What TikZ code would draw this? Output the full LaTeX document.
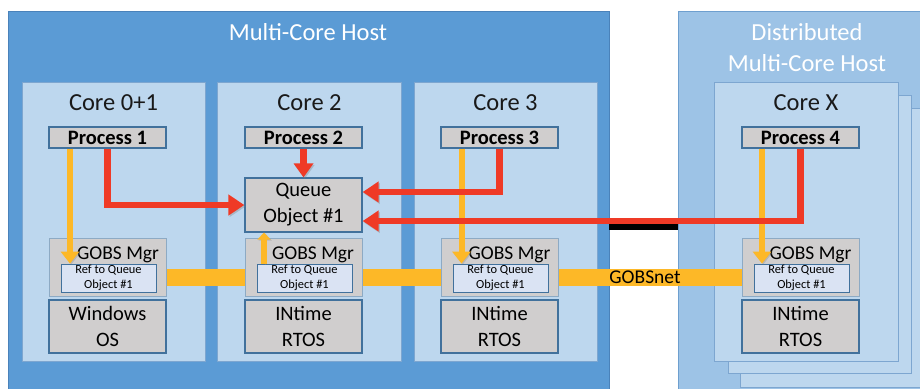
\documentclass[tikz,border=0pt]{standalone}
\usepackage{fontspec}
\setmainfont{Carlito}
\usetikzlibrary{arrows.meta,calc}
\definecolor{hostblue}{HTML}{5B9BD5}
\definecolor{hostedge}{HTML}{4A82BA}
\definecolor{distblue}{HTML}{9DC3E6}
\definecolor{distedge}{HTML}{6E9FCF}
\definecolor{corefill}{HTML}{BDD7EE}
\definecolor{coreedge}{HTML}{7DA6D0}
\definecolor{grayfill}{HTML}{D0CECE}
\definecolor{boxedge}{HTML}{41719C}
\definecolor{reffill}{HTML}{DAE3F3}
\definecolor{ylw}{HTML}{FDB827}
\definecolor{rd}{HTML}{EF3A26}
\pgfdeclarelayer{back}
\pgfdeclarelayer{mid}
\pgfsetlayers{back,mid,main}
\begin{document}
\begin{tikzpicture}[x=1pt,y=-1pt,
  hostbox/.style={draw=hostedge,line width=0.8pt,fill=hostblue,inner sep=0pt},
  distbox/.style={draw=distedge,line width=0.8pt,fill=distblue,inner sep=0pt},
  corebox/.style={draw=coreedge,line width=0.8pt,fill=corefill,inner sep=0pt,minimum width=183pt,minimum height=279pt},
  hosttitle/.style={text=white,font=\fontsize{24.5}{31}\selectfont,align=center,inner sep=0pt},
  coretitle/.style={text=black!90,font=\fontsize{24.5}{30}\selectfont,inner sep=0pt},
  procbox/.style={draw=boxedge,line width=1.2pt,fill=grayfill,minimum width=117pt,minimum height=21pt,inner sep=0pt,font=\bfseries\fontsize{20.5}{22}\selectfont},
  queuebox/.style={draw=boxedge,line width=1.2pt,fill=grayfill,minimum width=117pt,minimum height=54pt,inner sep=0pt,align=center,font=\fontsize{20.5}{26}\selectfont},
  gobsbox/.style={draw=boxedge!60,line width=0.8pt,fill=grayfill,minimum width=117pt,minimum height=58pt,inner sep=0pt},
  gobslabel/.style={font=\fontsize{19.5}{22}\selectfont,inner sep=0pt},
  refbox/.style={draw=boxedge,line width=0.8pt,fill=reffill,minimum width=95pt,minimum height=28pt,inner sep=0pt,align=center,font=\fontsize{12.4}{15.5}\selectfont},
  osbox/.style={draw=boxedge,line width=1.6pt,fill=grayfill,minimum width=117pt,minimum height=53pt,inner sep=0pt,align=center,font=\fontsize{20.5}{26}\selectfont},
  busline/.style={draw=ylw,line width=17pt},
  yarrow/.style={draw=ylw,line width=6pt,-{Triangle[length=12pt,width=18pt]},
    preaction={draw=black!45,opacity=0.35,transform canvas={shift={(1.2pt,-1pt)}}}},
  rarrow/.style={draw=rd,line width=6.5pt,-{Triangle[length=16pt,width=20pt]},
    preaction={draw=black!50,opacity=0.35,transform canvas={shift={(1.2pt,-1.5pt)}}}},
  blackbar/.style={draw=black,line width=6pt}]
\useasboundingbox (0,0) rectangle (920,388);
\begin{pgfonlayer}{back}
% hosts
\node[hostbox,minimum width=601pt,minimum height=381pt] (mh) at (308.5,201.5) {};
\node[distbox,minimum width=250pt,minimum height=381pt] (dh) at (803,201.5) {};
% stacked cores
\node[corebox,minimum width=184pt] (s3) at (832,247.5) {};
\node[corebox,minimum height=278pt] (s2) at (819.5,234) {};
% cores
\node[corebox] (c1) at (113.5,221.5) {};
\node[corebox,minimum width=184pt] (c2) at (309,221.5) {};
\node[corebox] (c3) at (505.5,221.5) {};
\node[corebox,minimum width=184pt] (cx) at (806,221.5) {};
\end{pgfonlayer}
% titles
\node[hosttitle] (mht) at (308,32) {Multi-Core Host};
\node[hosttitle] (dht) at (807,47.5) {Distributed\\Multi-Core Host};
\node[coretitle] (t1) at (113.5,103) {Core 0+1};
\node[coretitle] (t2) at (309.5,103) {Core 2};
\node[coretitle] (t3) at (505.5,103) {Core 3};
\node[coretitle] (tx) at (806,103) {Core X};
% processes
\node[procbox] (p1) at (107.5,137.5) {Process 1};
\node[procbox] (p2) at (303.5,137.5) {Process 2};
\node[procbox] (p3) at (499.5,137.5) {Process 3};
\node[procbox] (p4) at (800.5,137.5) {Process 4};
% queue
\node[queuebox] (q) at (303.5,205) {Queue\\Object \#1};
% GOBS managers
\node[gobsbox] (g1) at (107.5,267) {};
\node[gobsbox] (g2) at (303.5,267) {};
\node[gobsbox] (g3) at (499.5,267) {};
\node[gobsbox] (gx) at (800.5,267) {};
\node[gobslabel] (gl1) at (118,255) {GOBS Mgr};
\node[gobslabel] (gl2) at (313,255) {GOBS Mgr};
\node[gobslabel] (gl3) at (509.5,255) {GOBS Mgr};
\node[gobslabel] (glx) at (810.5,255) {GOBS Mgr};
\node[refbox] (r1) at (108.5,278) {Ref to Queue\\Object \#1};
\node[refbox] (r2) at (304.5,278) {Ref to Queue\\Object \#1};
\node[refbox] (r3) at (500.5,278) {Ref to Queue\\Object \#1};
\node[refbox] (rx) at (801.5,278) {Ref to Queue\\Object \#1};
% OS boxes
\node[osbox] (o1) at (107.5,326.5) {Windows\\OS};
\node[osbox] (o2) at (303.5,326.5) {INtime\\RTOS};
\node[osbox] (o3) at (499.5,326.5) {INtime\\RTOS};
\node[osbox] (ox) at (800.5,326.5) {INtime\\RTOS};
% bus
\begin{pgfonlayer}{mid}
\draw[busline] ($(g1.east)+(0,10.5)$) -- ($(gx.west)+(0,10.5)$);
\end{pgfonlayer}
\node[font=\fontsize{19.5}{22}\selectfont,inner sep=0pt] (net) at (645,277) {GOBSnet};
% black link
\draw[blackbar] (mh.east |- 0,227) -- (dh.west |- 0,227);
% yellow arrows
\coordinate (y1) at ($(p1.south)+(-37.5,0)$);
\coordinate (y3) at ($(p3.south)+(-38,0)$);
\coordinate (y4) at ($(p4.south)+(-38.5,0)$);
\coordinate (y2) at ($(r2.north)+(-40.5,0)$);
\draw[yarrow] (y1) -- (y1 |- r1.north);
\draw[yarrow] (y3) -- (y3 |- r3.north);
\draw[yarrow] (y4) -- (y4 |- rx.north);
\draw[yarrow,-{Triangle[length=7pt,width=13pt]}] (y2) -- (y2 |- q.south);
% red arrows
\draw[rarrow] (p1.south) |- (q.west);
\draw[rarrow,-{Triangle[length=14pt,width=19pt]}] (p2.south) -- (q.north);
\draw[rarrow] (p3.south) |- ($(q.east)+(0,-13)$);
\draw[rarrow] (p4.south) |- ($(q.east)+(0,16)$);
\end{tikzpicture}
\end{document}
